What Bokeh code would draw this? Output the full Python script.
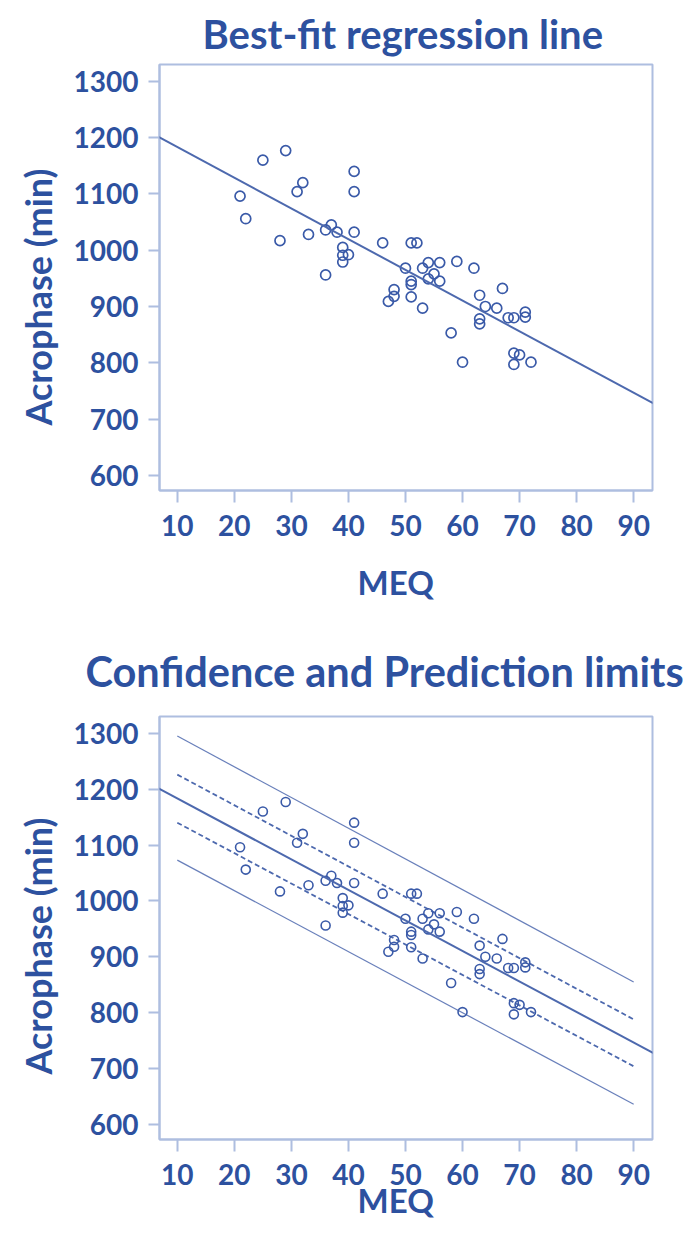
from bokeh.plotting import figure
from bokeh.layouts import column
from bokeh.models import FixedTicker, Slope, ColumnDataSource, Title
from bokeh.embed import file_html
from bokeh.resources import INLINE

# ---- data ----
meq = [21, 22, 25, 29, 28, 31, 32, 33, 36, 37, 38, 36, 39, 40, 39, 39, 41, 41, 41, 46,
       51, 52, 50, 53, 54, 56, 55, 54, 56, 51, 51, 48, 48, 47, 51, 53, 59, 62, 63, 64,
       66, 67, 63, 63, 68, 69, 71, 71, 58, 60, 69, 70, 69, 72]
acrophase = [1096, 1056, 1160, 1177, 1017, 1104, 1120, 1028, 1036, 1045, 1032, 956, 1005, 992, 991, 979,
             1140, 1104, 1032, 1013, 1013, 1013, 968, 968, 978, 978, 958, 949, 945, 945, 939, 930,
             918, 909, 917, 897, 980, 968, 920, 900, 897, 932, 878, 869, 880, 880, 890, 881,
             853, 801, 817, 814, 797, 801]

fit_intercept = 1238.0
fit_slope = -5.46

band_x = [10, 90]
upper_prediction = [1295, 855]
upper_confidence = [1226, 788]
lower_confidence = [1140, 704]
lower_prediction = [1073, 636]

x_ticks = [10, 20, 30, 40, 50, 60, 70, 80, 90]
y_ticks = [600, 700, 800, 900, 1000, 1100, 1200, 1300]

TEXT = "#2d519f"
MARK = "#3a5aa8"
LINE = "#4d69ae"
FRAME = "#aebee0"
FONT = "Lato"


def style_title(t, size, offset, standoff):
    t.align = "left"
    t.offset = offset
    t.standoff = standoff
    t.text_font = FONT
    t.text_font_style = "bold"
    t.text_font_size = size
    t.text_color = TEXT


def make_fig(title, title_size, title_offset, title_standoff, height, top, bottom,
             xlabel_standoff):
    p = figure(width=692, height=height, x_range=(6.88, 93.3), y_range=(573, 1330),
               output_backend="svg", toolbar_location=None,
               min_border_left=159, min_border_right=40,
               min_border_top=top, min_border_bottom=bottom)
    p.title.text = title
    style_title(p.title, title_size, title_offset, title_standoff)
    p.grid.visible = False
    p.outline_line_color = FRAME
    p.outline_line_width = 2
    p.outline_line_alpha = 1
    p.background_fill_color = "white"
    p.border_fill_color = "white"
    for ax in (p.xaxis[0], p.yaxis[0]):
        ax.axis_line_color = FRAME
        ax.axis_line_width = 2
        ax.major_tick_line_color = FRAME
        ax.major_tick_line_width = 2
        ax.minor_tick_line_color = None
        ax.major_tick_in = 0
        ax.major_label_text_font = FONT
        ax.major_label_text_font_style = "bold"
        ax.major_label_text_font_size = "28px"
        ax.major_label_text_color = TEXT
    p.xaxis.ticker = FixedTicker(ticks=x_ticks)
    p.yaxis.ticker = FixedTicker(ticks=y_ticks)
    p.xaxis.major_tick_out = 12
    p.yaxis.major_tick_out = 11
    p.xaxis.major_label_standoff = 12
    p.yaxis.major_label_standoff = 10

    ylab = Title(text="Acrophase (min)")
    style_title(ylab, "36px", 65, 22)
    p.add_layout(ylab, "left")
    xlab = Title(text="MEQ")
    style_title(xlab, "33px", 198, xlabel_standoff)
    p.add_layout(xlab, "below")
    return p


src = ColumnDataSource(dict(meq=meq, acrophase=acrophase))

p1 = make_fig("Best-fit regression line", "40px", 43, 14, 622, 64, 132, 42)
p1.add_layout(Slope(gradient=fit_slope, y_intercept=fit_intercept, line_color=LINE, line_width=2))
p1.scatter("meq", "acrophase", source=src, marker="circle", size=10, fill_color=None,
           line_color=MARK, line_width=1.7)

p2 = make_fig("Confidence and Prediction limits", "41.5px", -74, 42, 607, 92, 90, -20)
p2.add_layout(Slope(gradient=fit_slope, y_intercept=fit_intercept, line_color=LINE, line_width=2))
p2.line(band_x, upper_prediction, line_color=LINE, line_width=1.2, line_alpha=0.85)
p2.line(band_x, lower_prediction, line_color=LINE, line_width=1.2, line_alpha=0.85)
p2.line(band_x, upper_confidence, line_color=LINE, line_width=1.8, line_dash="5 3")
p2.line(band_x, lower_confidence, line_color=LINE, line_width=1.8, line_dash="5 3")
p2.scatter("meq", "acrophase", source=src, marker="circle", size=9, fill_color=None,
           line_color=MARK, line_width=1.6)

layout = column(p1, p2, spacing=0)
open("out.html", "w").write(file_html(layout, INLINE))
